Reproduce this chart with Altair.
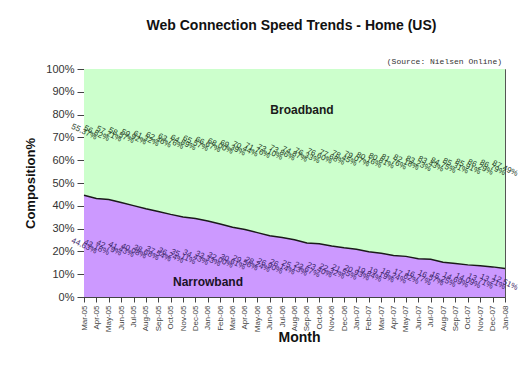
import altair as alt
import pandas as pd

months = ["Mar-05", "Apr-05", "May-05", "Jun-05", "Jul-05", "Aug-05", "Sep-05", "Oct-05", "Nov-05", "Dec-05",
          "Jan-06", "Feb-06", "Mar-06", "Apr-06", "May-06", "Jun-06", "Jul-06", "Aug-06", "Sep-06", "Oct-06",
          "Nov-06", "Dec-06", "Jan-07", "Feb-07", "Mar-07", "Apr-07", "May-07", "Jun-07", "Jul-07", "Aug-07",
          "Sep-07", "Oct-07", "Nov-07", "Dec-07", "Jan-08"]

narrowband = [44.63, 43.18, 42.79, 41.43, 40.08, 38.68, 37.54, 36.24, 35.11, 34.43,
              33.33, 32.00, 30.61, 29.56, 28.24, 26.90, 26.14, 25.13, 23.67, 23.40,
              22.32, 21.55, 20.93, 19.84, 19.19, 18.24, 17.82, 16.77, 16.57, 15.25,
              14.69, 14.09, 13.71, 13.21, 12.51]

broadband = [55.37, 56.82, 57.21, 58.57, 59.92, 61.32, 62.46, 63.76, 64.89, 65.57,
             66.67, 68.00, 69.39, 70.44, 71.76, 73.10, 73.86, 74.87, 76.33, 76.60,
             77.68, 78.45, 79.07, 80.16, 80.81, 81.76, 82.18, 83.23, 83.43, 84.75,
             85.31, 85.91, 86.29, 86.79, 87.49]

y_ticks = [0, 10, 20, 30, 40, 50, 60, 70, 80, 90, 100]

df = pd.DataFrame({"month": months, "narrow": narrowband, "broad": broadband})

FONT = "Liberation Sans"

base = alt.Chart(df).transform_calculate(
    top="datum.narrow + datum.broad",
    ny="datum.narrow / 2",
    by="datum.narrow + datum.broad / 2",
    nlab="format(datum.narrow, '.2f') + '%'",
    blab="format(datum.broad, '.2f') + '%'",
)

x_axis = alt.Axis(labelAngle=-90, labelFontSize=8, labelFont=FONT, labelColor="#444",
                  tickSize=5, tickColor="#444", domainColor="#444", labelPadding=3,
                  titleFont=FONT, titleFontSize=14, titleFontWeight="bold", titleColor="#111",
                  titleX=215, titleY=40, titleBaseline="middle", titleAlign="center")
y_axis = alt.Axis(values=y_ticks, labelExpr="datum.value + '%'", grid=False,
                  labelFontSize=11, labelFont=FONT, labelColor="#333", tickSize=7,
                  tickColor="#444", domainColor="#444", labelPadding=3,
                  titleFont=FONT, titleFontSize=13, titleFontWeight="bold", titleColor="#111",
                  titleX=-54, titleY=114, titleAngle=-90, titleBaseline="middle", titleAlign="center")


def X():
    return alt.X("month:O", sort=months, scale=alt.Scale(type="point", padding=0),
                 axis=x_axis, title="Month")


def Y(field):
    return alt.Y(field, scale=alt.Scale(domain=[0, 100]), axis=y_axis, title="Composition%")


broad_area = base.mark_area(color="#CCFFCC", opacity=1).encode(x=X(), y=Y("top:Q"), y2="narrow:Q")
narrow_area = base.mark_area(color="#CC99FF", opacity=1).encode(x=X(), y=Y("narrow:Q"))
border_line = base.mark_line(color="#1a1a1a", strokeWidth=1.5).encode(x=X(), y=Y("narrow:Q"))

n_labels = base.mark_text(angle=25, fontSize=8, font=FONT, color="#3a2468").encode(
    x=X(), y=Y("ny:Q"), text="nlab:N")
b_labels = base.mark_text(angle=25, fontSize=8, font=FONT, color="#1f3d1f").encode(
    x=X(), y=Y("by:Q"), text="blab:N")

one = pd.DataFrame({"a": [0]})
title = alt.Chart(one).mark_text(text="Web Connection Speed Trends - Home (US)", font=FONT,
                                 fontSize=14, fontWeight="bold", color="#111", align="center",
                                 baseline="alphabetic").encode(x=alt.value(207.5), y=alt.value(-39))
source = alt.Chart(one).mark_text(text="(Source: Nielsen Online)", font="Liberation Mono",
                                  fontSize=8, color="#333", align="right",
                                  baseline="alphabetic").encode(x=alt.value(418), y=alt.value(-5))
bb = alt.Chart(one).mark_text(text="Broadband", font=FONT, fontSize=12, fontWeight="bold",
                              color="#1a1a1a", align="center", baseline="middle").encode(
    x=alt.value(218), y=alt.value(41))
nb = alt.Chart(one).mark_text(text="Narrowband", font=FONT, fontSize=12, fontWeight="bold",
                              color="#1a1226", align="center", baseline="middle").encode(
    x=alt.value(124), y=alt.value(213))

chart = alt.layer(broad_area, narrow_area, border_line, n_labels, b_labels, title, source, bb, nb).properties(
    width=421, height=228,
    autosize=alt.AutoSizeParams(type="none"),
    padding={"left": 76, "top": 61, "right": 13, "bottom": 62},
    background="white",
).configure_view(stroke="#555", strokeWidth=1)

chart.save("out.html", embed_options={"renderer": "svg", "actions": False})
